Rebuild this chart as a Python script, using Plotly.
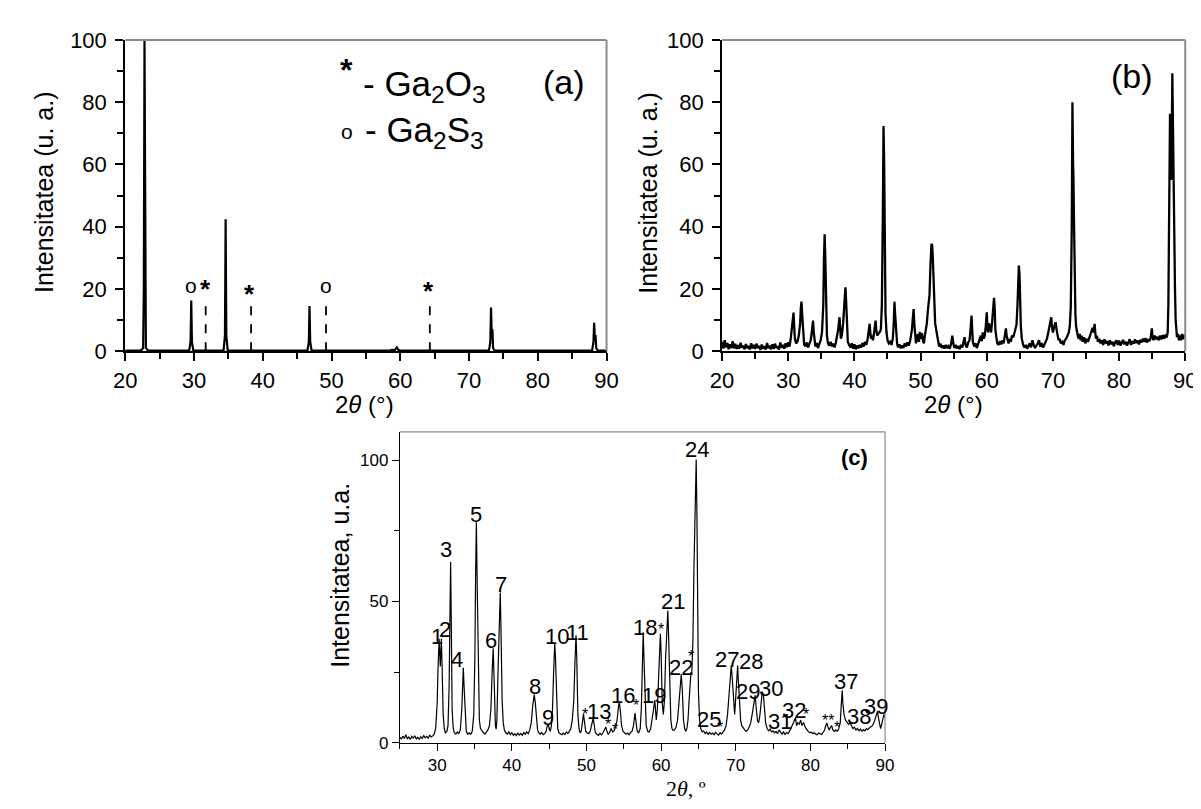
import plotly.graph_objects as go

# ---------------- DATA ----------------
# Panel (a): XRD pattern, (2theta, intensity)
a_pattern = [
    (20.0, 0.2), (22.3, 0.2), (22.6, 1.0), (22.7, 20), (22.8, 100), (22.9, 20), (23.0, 1.0), (23.3, 0.2),
    (29.3, 0.2), (29.5, 3), (29.6, 16.3), (29.7, 3), (29.9, 0.2),
    (34.3, 0.2), (34.5, 5), (34.6, 42.4), (34.7, 5), (34.9, 0.2),
    (46.5, 0.2), (46.7, 3), (46.8, 14.5), (46.9, 3), (47.1, 0.2),
    (58.5, 0.2), (58.8, 0.4), (59.2, 0.3), (59.5, 1.2), (59.7, 0.4), (60.0, 0.2),
    (72.9, 0.2), (73.1, 3), (73.2, 14), (73.3, 5), (73.4, 7), (73.5, 1), (73.7, 0.2),
    (87.9, 0.2), (88.1, 3), (88.2, 9.1), (88.3, 4), (88.4, 5.2), (88.5, 1), (88.7, 0.2), (90.0, 0.2),
]
# Reference (dashed) lines in (a)
a_ref_pos = [31.7, 38.3, 49.2, 64.3]
a_ref_h = [16.3, 15.3, 15.6, 15.3]
# Phase markers in (a)
a_mark_txt = ["o", "*", "*", "o", "*"]
a_mark_x = [29.5, 31.6, 38.1, 49.2, 64.1]
a_mark_y = [21.1, 20.0, 18.3, 21.1, 19.2]

# Panel (b): XRD pattern
b_pattern = [
    (20.0, 3.0), (20.2, 0.8), (20.4, 3.5), (20.6, 1.2), (20.8, 2.6), (21.0, 0.6), (21.2, 2.2), (21.4, 1.0),
    (21.6, 3.2), (21.8, 0.9), (22.0, 2.4), (22.2, 0.7), (22.4, 1.9), (22.6, 0.8), (22.8, 2.7), (23.0, 1.1),
    (23.2, 1.8), (23.4, 0.6), (23.6, 2.3), (23.8, 1.0), (24.0, 1.6), (24.2, 0.5), (24.4, 2.5), (24.6, 0.9),
    (24.8, 2.0), (25.0, 0.7), (25.2, 2.4), (25.4, 1.0), (25.6, 1.7), (25.8, 0.4), (26.0, 2.1), (26.2, 0.8),
    (26.4, 1.5), (26.6, 0.5), (26.8, 2.6), (27.0, 0.9), (27.2, 1.8), (27.4, 0.6), (27.6, 2.2), (27.8, 0.7),
    (28.0, 2.4), (28.2, 1.0), (28.4, 1.6), (28.6, 0.5), (28.8, 2.8), (29.0, 1.1), (29.2, 2.0), (29.4, 0.8),
    (29.6, 2.5), (29.8, 1.3), (30.0, 2.8), (30.2, 1.5), (30.4, 4.5), (30.55, 7), (30.7, 10), (30.8, 12.4),
    (30.9, 8), (31.0, 4), (31.2, 2.5), (31.4, 3.2), (31.6, 5), (31.8, 9), (31.9, 14), (32.0, 15.9),
    (32.1, 12), (32.25, 5), (32.4, 2.2), (32.6, 1.5), (32.8, 2.8), (33.0, 1.2), (33.2, 2.5), (33.4, 3.5),
    (33.55, 6), (33.75, 9.8), (33.85, 6), (33.95, 3), (34.1, 1.5), (34.3, 2.6), (34.5, 1.0), (34.7, 2.3),
    (34.9, 3.5), (35.1, 6), (35.3, 15), (35.4, 30), (35.5, 37.6), (35.6, 30), (35.7, 12), (35.85, 5),
    (36.0, 2.5), (36.2, 1.8), (36.4, 3.0), (36.6, 1.5), (36.8, 2.4), (37.0, 1.2), (37.2, 2.8), (37.4, 5),
    (37.55, 7), (37.75, 10.9), (37.85, 6), (37.95, 4), (38.1, 5), (38.3, 9), (38.5, 16), (38.65, 20.5),
    (38.75, 16), (38.9, 7), (39.0, 3), (39.2, 2), (39.4, 1.2), (39.6, 2.5), (39.8, 0.8), (40.0, 2.2),
    (40.2, 0.6), (40.4, 1.8), (40.6, 0.9), (40.8, 2.0), (41.0, 1.2), (41.2, 2.6), (41.4, 1.5), (41.6, 3.0),
    (41.8, 2.0), (42.0, 4), (42.15, 6.5), (42.3, 8.8), (42.4, 6), (42.5, 4), (42.65, 5), (42.8, 3.5),
    (42.95, 5.5), (43.1, 8), (43.2, 9.8), (43.3, 7), (43.45, 5), (43.6, 5.5), (43.8, 6), (44.0, 7),
    (44.15, 15), (44.3, 45), (44.4, 72.4), (44.5, 60), (44.6, 30), (44.7, 12), (44.85, 6), (45.0, 3.5),
    (45.2, 2.5), (45.4, 3.0), (45.6, 2.0), (45.8, 4), (45.95, 9), (46.05, 15.9), (46.15, 12), (46.3, 5),
    (46.45, 2.5), (46.6, 1.2), (46.8, 2.2), (47.0, 0.9), (47.2, 1.8), (47.4, 1.0), (47.6, 2.5), (47.8, 1.5),
    (48.0, 2.8), (48.2, 1.8), (48.4, 3), (48.55, 5), (48.7, 7), (48.8, 10), (48.95, 13.5), (49.05, 9),
    (49.2, 4), (49.3, 2.5), (49.45, 4), (49.6, 5.5), (49.75, 3), (49.9, 6.2), (50.05, 4), (50.2, 5.8),
    (50.35, 3.5), (50.5, 2.5), (50.65, 5), (50.8, 7), (50.95, 9), (51.1, 13), (51.25, 16), (51.35, 18),
    (51.5, 28), (51.65, 34.5), (51.75, 34), (51.85, 30), (51.95, 24), (52.05, 15), (52.2, 9), (52.35, 7),
    (52.5, 5), (52.65, 3), (52.8, 1.5), (53.0, 2.4), (53.2, 1.0), (53.4, 1.8), (53.6, 0.8), (53.8, 2.0),
    (54.0, 1.0), (54.2, 1.6), (54.4, 0.8), (54.6, 2.2), (54.8, 5), (54.95, 2.5), (55.1, 1.0), (55.3, 2.0),
    (55.5, 0.9), (55.7, 1.6), (55.9, 0.6), (56.1, 2.0), (56.3, 1.2), (56.5, 3.0), (56.65, 4.5), (56.8, 2.0),
    (57.0, 1.2), (57.2, 2.8), (57.4, 3.5), (57.55, 7), (57.7, 11.4), (57.8, 7), (57.9, 3), (58.1, 1.5),
    (58.3, 2.5), (58.5, 1.0), (58.7, 2.2), (58.9, 3.5), (59.1, 5), (59.25, 3.2), (59.4, 6), (59.55, 4),
    (59.7, 5), (59.85, 8), (60.0, 12.5), (60.1, 8), (60.2, 6), (60.35, 9), (60.5, 7.5), (60.65, 6),
    (60.8, 9), (60.95, 14), (61.1, 17.1), (61.2, 14), (61.3, 7), (61.45, 4.5), (61.6, 2.5), (61.8, 2.0),
    (62.0, 3.2), (62.2, 2.2), (62.4, 3.5), (62.55, 2.5), (62.7, 5), (62.9, 7.3), (63.0, 5), (63.15, 3.5),
    (63.3, 2.5), (63.5, 4), (63.65, 3), (63.8, 5), (64.0, 4.5), (64.2, 6), (64.35, 8), (64.5, 8.5),
    (64.65, 15), (64.75, 25), (64.85, 27.5), (64.95, 25), (65.05, 16), (65.15, 8), (65.3, 4), (65.5, 2),
    (65.7, 1.2), (65.9, 2.0), (66.1, 0.8), (66.3, 1.6), (66.5, 2.5), (66.7, 1.2), (66.9, 3.5), (67.1, 2.0),
    (67.3, 1.0), (67.5, 1.8), (67.7, 2.4), (67.9, 3.5), (68.1, 1.4), (68.3, 2.6), (68.5, 1.2), (68.7, 2.0),
    (68.9, 3.0), (69.1, 4), (69.3, 6), (69.5, 8), (69.65, 9), (69.75, 10.9), (69.85, 8), (70.0, 6),
    (70.15, 7.5), (70.3, 9), (70.4, 9.3), (70.55, 7), (70.7, 5), (70.85, 3.5), (71.0, 4), (71.2, 2.5),
    (71.4, 3), (71.6, 2), (71.8, 3.5), (72.0, 4), (72.2, 5), (72.4, 6), (72.55, 8), (72.7, 14),
    (72.85, 40), (72.95, 80), (73.05, 60), (73.1, 56.6), (73.2, 40), (73.3, 20), (73.4, 12), (73.5, 8),
    (73.6, 6), (73.75, 5), (73.9, 4), (74.05, 5.5), (74.2, 3.5), (74.35, 5), (74.5, 3), (74.7, 4.5),
    (74.9, 2.5), (75.1, 4), (75.3, 3), (75.5, 4.5), (75.7, 5.5), (75.85, 6.5), (76.0, 7.5), (76.15, 6),
    (76.3, 8.8), (76.4, 6), (76.5, 4), (76.65, 5), (76.8, 3), (77.0, 4), (77.2, 2.5), (77.4, 3.5),
    (77.6, 2), (77.8, 3.8), (78.0, 2.5), (78.2, 3.2), (78.4, 1.8), (78.6, 3.5), (78.8, 2.2), (79.0, 3.0),
    (79.2, 1.6), (79.4, 2.8), (79.6, 3.5), (79.8, 2.0), (80.0, 3.4), (80.2, 1.8), (80.4, 2.6), (80.6, 3.6),
    (80.8, 2.2), (81.0, 3.0), (81.2, 1.8), (81.4, 2.8), (81.6, 3.8), (81.8, 2.0), (82.0, 3.2), (82.2, 2.4),
    (82.4, 3.8), (82.6, 2.6), (82.8, 3.4), (83.0, 2.2), (83.2, 3.6), (83.4, 2.8), (83.6, 4.0), (83.8, 3.0),
    (84.0, 4.2), (84.2, 2.8), (84.4, 3.8), (84.6, 3.2), (84.8, 4.5), (84.95, 7.3), (85.05, 4.5), (85.2, 3.5),
    (85.4, 5), (85.6, 3.8), (85.8, 4.6), (86.0, 3.5), (86.2, 5), (86.4, 3.8), (86.6, 5.2), (86.8, 4.0),
    (87.0, 5.0), (87.2, 4.5), (87.35, 6), (87.45, 15), (87.55, 45), (87.7, 76.3), (87.8, 60), (87.9, 55),
    (88.05, 89.3), (88.15, 65), (88.25, 42), (88.35, 40), (88.45, 20), (88.55, 10), (88.65, 6), (88.75, 4.5),
    (88.9, 5.5), (89.05, 3.5), (89.2, 5), (89.35, 3.5), (89.5, 5.5), (89.65, 3.8), (89.8, 5.2), (90.0, 4.5),
]

# Panel (c): XRD pattern
c_pattern = [
    (25.0, 2.0), (25.2, 1.2), (25.4, 2.3), (25.6, 1.5), (25.8, 2.8), (26.0, 1.4), (26.2, 2.0), (26.4, 1.1),
    (26.6, 2.2), (26.8, 1.6), (27.0, 2.4), (27.2, 1.3), (27.4, 1.9), (27.6, 1.2), (27.8, 2.1), (28.0, 1.5),
    (28.2, 2.5), (28.4, 1.7), (28.6, 2.2), (28.8, 1.6), (29.0, 2.6), (29.2, 2.0), (29.4, 2.4), (29.6, 3.0),
    (29.8, 5), (30.0, 14), (30.1, 25), (30.2, 34), (30.26, 36.8), (30.35, 31), (30.42, 27), (30.5, 33),
    (30.56, 36.8), (30.65, 28), (30.8, 10), (30.95, 5), (31.1, 3.5), (31.3, 4), (31.45, 6), (31.6, 20),
    (31.7, 45), (31.8, 63.9), (31.9, 40), (32.0, 12), (32.15, 5), (32.3, 3.5), (32.5, 3), (32.7, 3.8),
    (32.9, 3.2), (33.1, 4.5), (33.3, 12), (33.4, 22), (33.5, 26.5), (33.6, 20), (33.75, 8), (33.9, 4),
    (34.1, 3), (34.3, 3.5), (34.5, 3), (34.7, 4), (34.9, 10), (35.05, 30), (35.15, 60), (35.25, 78),
    (35.35, 58), (35.5, 22), (35.65, 8), (35.8, 5), (36.0, 4), (36.2, 3.5), (36.4, 3), (36.6, 3.8),
    (36.8, 4.5), (37.0, 6), (37.2, 12), (37.35, 24), (37.5, 33.4), (37.6, 25), (37.7, 12), (37.8, 6),
    (37.9, 4.8), (38.0, 8), (38.15, 25), (38.3, 45), (38.45, 53.1), (38.55, 40), (38.7, 15), (38.85, 7),
    (39.0, 4.5), (39.2, 3.5), (39.4, 3), (39.6, 3.8), (39.8, 2.8), (40.0, 3.5), (40.2, 2.6), (40.4, 3.2),
    (40.6, 2.5), (40.8, 3.4), (41.0, 2.7), (41.2, 3.3), (41.4, 2.6), (41.6, 3.6), (41.8, 3.0), (42.0, 3.8),
    (42.2, 3.2), (42.4, 4.5), (42.6, 7), (42.8, 13), (43.0, 17), (43.15, 14), (43.3, 8), (43.45, 4.5),
    (43.6, 3.5), (43.8, 3), (44.0, 3.6), (44.2, 2.8), (44.4, 3.2), (44.6, 4), (44.75, 6), (44.9, 6.5),
    (45.0, 5), (45.15, 4), (45.3, 6), (45.45, 12), (45.6, 25), (45.75, 35.1), (45.85, 30), (46.0, 12),
    (46.15, 5), (46.3, 3.5), (46.5, 3), (46.7, 2.8), (46.9, 3.4), (47.1, 2.9), (47.3, 3.8), (47.5, 3.2),
    (47.7, 4), (47.9, 5), (48.1, 8), (48.3, 15), (48.45, 28), (48.6, 38), (48.7, 30), (48.85, 10),
    (49.0, 5), (49.15, 3.5), (49.3, 4), (49.45, 7), (49.6, 10.2), (49.75, 7), (49.9, 4), (50.1, 3.5),
    (50.3, 3.2), (50.5, 4), (50.7, 6), (50.9, 8.8), (51.05, 6), (51.2, 3.5), (51.4, 3), (51.6, 2.6),
    (51.8, 3.3), (52.0, 2.8), (52.2, 3.5), (52.4, 4.5), (52.6, 5.5), (52.75, 4), (52.9, 3), (53.1, 3.5),
    (53.3, 5), (53.5, 3.8), (53.7, 4.2), (53.9, 5.5), (54.1, 8), (54.3, 13), (54.4, 14.5), (54.55, 11),
    (54.7, 6), (54.9, 4), (55.1, 3.5), (55.3, 3), (55.5, 3.4), (55.7, 2.8), (55.9, 3.6), (56.1, 4),
    (56.3, 6), (56.5, 10.5), (56.65, 7), (56.8, 4), (57.0, 3.5), (57.2, 5), (57.35, 12), (57.5, 30),
    (57.6, 39.1), (57.7, 30), (57.85, 12), (58.0, 6), (58.2, 4), (58.4, 3.8), (58.6, 5), (58.8, 8),
    (59.0, 12), (59.15, 15.1), (59.25, 11), (59.35, 8), (59.5, 12), (59.65, 20), (59.8, 33), (59.9, 38.5),
    (60.0, 32), (60.15, 14), (60.3, 10), (60.45, 15), (60.6, 30), (60.75, 42), (60.9, 46.8), (61.0, 38),
    (61.15, 18), (61.3, 8), (61.45, 5), (61.6, 4.4), (61.8, 4.5), (62.0, 5.5), (62.2, 8), (62.4, 14),
    (62.55, 21), (62.7, 24.2), (62.85, 18), (63.0, 8), (63.15, 5), (63.3, 4), (63.45, 5), (63.6, 8),
    (63.75, 15), (63.9, 22), (64.0, 25), (64.1, 24), (64.25, 35), (64.4, 62), (64.55, 85), (64.7, 100.2),
    (64.8, 80), (64.9, 45), (65.0, 18), (65.15, 8), (65.3, 5), (65.5, 3.8), (65.7, 4.2), (65.9, 3.2),
    (66.1, 3.8), (66.3, 2.9), (66.5, 3.6), (66.7, 3.0), (66.9, 3.4), (67.1, 2.8), (67.3, 3.7), (67.5, 3.1),
    (67.7, 2.7), (67.9, 3.5), (68.1, 3.0), (68.3, 3.8), (68.5, 4.5), (68.7, 6), (68.9, 10), (69.1, 17),
    (69.3, 24), (69.4, 27.3), (69.55, 22), (69.75, 12), (69.85, 10), (69.95, 14), (70.1, 24), (70.25, 27.3),
    (70.35, 22), (70.5, 12), (70.65, 8), (70.8, 6), (71.0, 5), (71.2, 4.5), (71.4, 4), (71.6, 4.5),
    (71.8, 5.5), (72.0, 7), (72.2, 10), (72.4, 14), (72.6, 16.8), (72.75, 12), (72.9, 8), (73.05, 7),
    (73.2, 9), (73.4, 14), (73.55, 18), (73.7, 17), (73.85, 11), (74.0, 7), (74.2, 5), (74.4, 4.2),
    (74.6, 4.8), (74.8, 3.8), (75.0, 4.2), (75.2, 3.5), (75.4, 4.0), (75.6, 3.2), (75.8, 4.5), (76.0, 3.5),
    (76.2, 3.0), (76.4, 3.8), (76.6, 2.9), (76.8, 3.6), (77.0, 3.2), (77.2, 4.0), (77.4, 5), (77.6, 6),
    (77.8, 7.5), (78.0, 8.8), (78.15, 6), (78.3, 7), (78.5, 6.5), (78.7, 8), (78.85, 6), (79.0, 6.8),
    (79.1, 7), (79.3, 5.5), (79.5, 4.5), (79.7, 4), (79.9, 3.5), (80.1, 3.8), (80.3, 3.2), (80.5, 3.5),
    (80.7, 3.0), (80.9, 2.8), (81.1, 3.4), (81.3, 3.0), (81.5, 2.9), (81.7, 3.6), (81.9, 4.5), (82.05, 6),
    (82.2, 7), (82.35, 5.5), (82.5, 4.5), (82.7, 5.5), (82.85, 6), (83.0, 4.5), (83.2, 4), (83.4, 4.5),
    (83.6, 4), (83.8, 5), (84.0, 7), (84.1, 12), (84.2, 16), (84.26, 18.5), (84.35, 14), (84.5, 10),
    (84.7, 8), (84.9, 7), (85.1, 6.5), (85.3, 7), (85.5, 6), (85.7, 5), (85.9, 5.5), (86.1, 4.5),
    (86.3, 5), (86.5, 4.2), (86.7, 4.8), (86.9, 4.0), (87.1, 4.6), (87.3, 4.2), (87.5, 5), (87.7, 4.6),
    (87.9, 5.2), (88.1, 5.5), (88.3, 6), (88.5, 7), (88.7, 8.5), (88.9, 10.5), (89.0, 11.1), (89.1, 9),
    (89.25, 6), (89.4, 5), (89.55, 6.5), (89.7, 9), (89.85, 10), (90.0, 9),
]
# Peak labels in (c): text, x, y
c_lbl_txt = ["1", "2", "3", "4", "5", "6", "7", "8", "9", "10", "11", "13", "16", "18", "19", "21",
             "22", "24", "25", "27", "28", "29", "30", "31", "32", "37", "38", "39"]
c_lbl_x = [30.0, 31.0, 31.13, 32.67, 35.16, 37.26, 38.57, 43.04, 44.84, 46.1, 48.85, 51.66, 54.94, 57.9,
           59.09, 61.55, 62.73, 64.79, 66.45, 68.86, 72.0, 71.7, 74.77, 75.9, 77.83, 84.82, 86.49, 88.76]
c_lbl_y = [37.4, 40.2, 68.2, 29.4, 80.8, 36.2, 55.9, 19.9, 9.0, 37.4, 39.1, 11.1, 16.8, 40.8,
           16.8, 49.9, 26.5, 103.9, 8.2, 29.6, 28.8, 18.0, 19.1, 7.5, 11.5, 21.6, 9.4, 12.8]
# Asterisk marks in (c)
c_star_txt = ["*", "*", "*", "*", "*", "*", "*", "*", "**", "*"]
c_star_x = [49.8, 52.88, 53.76, 56.69, 60.01, 63.95, 67.85, 79.44, 82.3, 83.6]
c_star_y = [10.1, 6.5, 4.8, 13.1, 39.9, 30.5, 5.3, 9.9, 7.8, 5.3]

# Tick values
ab_xticks = [20, 30, 40, 50, 60, 70, 80, 90]
ab_yticks = [0, 20, 40, 60, 80, 100]
c_xticks = [30, 40, 50, 60, 70, 80, 90]
c_yticks = [0, 50, 100]

# ---------------- FIGURE ----------------
W, H = 1201, 809
SANS = "Arial, Liberation Sans, sans-serif"
SERIF = "Times New Roman, Liberation Serif, serif"


def dx(l, r):
    return [l / W, r / W]


def dy(t, b):
    return [1 - b / H, 1 - t / H]


fig = go.Figure()


def unzip(pts):
    return [p[0] for p in pts], [p[1] for p in pts]


ax, ay = unzip(a_pattern)
bx, by = unzip(b_pattern)
cx, cy = unzip(c_pattern)

fig.add_trace(go.Scatter(x=ax, y=ay, mode="lines", line=dict(color="black", width=2.2),
                         xaxis="x", yaxis="y", showlegend=False, hoverinfo="skip"))
dxs, dys = [], []
for p, h in zip(a_ref_pos, a_ref_h):
    dxs += [p, p, None]
    dys += [0, h, None]
fig.add_trace(go.Scatter(x=dxs, y=dys, mode="lines", line=dict(color="black", width=1.8, dash="dash"),
                         xaxis="x", yaxis="y", showlegend=False, hoverinfo="skip"))
fig.add_trace(go.Scatter(x=bx, y=by, mode="lines", line=dict(color="black", width=2.3),
                         xaxis="x2", yaxis="y2", showlegend=False, hoverinfo="skip"))
fig.add_trace(go.Scatter(x=cx, y=cy, mode="lines", line=dict(color="black", width=1.2),
                         xaxis="x3", yaxis="y3", showlegend=False, hoverinfo="skip"))


def axis(domain, rng, tickvals, minor_dtick, tsize, lw, tlen, mlen, standoff=0):
    return dict(domain=domain, range=rng, tickmode="array", tickvals=tickvals,
                ticks="outside", ticklen=tlen, tickwidth=lw, tickcolor="black",
                showline=True, linecolor="black", linewidth=lw, mirror=False,
                showgrid=False, zeroline=False, ticklabelstandoff=standoff,
                tickfont=dict(family=SANS, size=tsize, color="black"),
                minor=dict(dtick=minor_dtick, ticks="outside", ticklen=mlen, tickwidth=lw,
                           tickcolor="black", showgrid=False))


A_X = dx(107.4, 598.5)
B_X = dx(716.4, 1189.0)
AB_Y = dy(20.7, 341.7)
C_X = dx(387.6, 882.7)
C_Y = dy(425.0, 745.7)

fig.update_layout(
    width=W, height=H, margin=dict(l=0, r=0, t=0, b=0),
    paper_bgcolor="white", plot_bgcolor="white",
    xaxis=dict(axis(A_X, [20, 90], ab_xticks, 5, 22, 2, 8, 6), anchor="y"),
    yaxis=dict(axis(AB_Y, [0, 100], ab_yticks, 10, 22, 2, 8, 6, 4), anchor="x"),
    xaxis2=dict(axis(B_X, [20, 90], ab_xticks, 5, 22, 2, 8, 6), anchor="y2"),
    yaxis2=dict(axis(AB_Y, [0, 100], ab_yticks, 10, 22, 2, 8, 6, 4), anchor="x2"),
    xaxis3=dict(axis(C_X, [25, 90], c_xticks, 5, 17, 1.2, 7, 5), anchor="y3"),
    yaxis3=dict(axis(C_Y, [0, 110], c_yticks, 25, 17, 1.2, 7, 5), anchor="x3"),
)

# gray top/right frame lines
shapes = []
for xr, yr, w in [("x", "y", 2), ("x2", "y2", 2), ("x3", "y3", 1.2)]:
    shapes.append(dict(type="line", xref=xr + " domain", yref=yr + " domain", x0=0, x1=1, y0=1, y1=1,
                       line=dict(color="#8a8a8a", width=w)))
    shapes.append(dict(type="line", xref=xr + " domain", yref=yr + " domain", x0=1, x1=1, y0=0, y1=1,
                       line=dict(color="#8a8a8a", width=w)))
fig.update_layout(shapes=shapes)

ann = []


def pann(text, px, py, size, family=SANS, angle=0, xanchor="center"):
    ann.append(dict(text=text, x=px / W, y=1 - py / H, xref="paper", yref="paper", showarrow=False,
                    xanchor=xanchor, yanchor="middle", textangle=angle,
                    font=dict(family=family, size=size, color="black")))


def dann(text, x, y, xr, yr, size, family=SANS, xanchor="center"):
    ann.append(dict(text=text, x=x, y=y, xref=xr, yref=yr, showarrow=False,
                    xanchor=xanchor, yanchor="middle",
                    font=dict(family=family, size=size, color="black")))


# axis titles (a), (b)
pann("Intensitatea (u. a.)", 25, 178, 25, angle=-90)
pann("Intensitatea (u. a.)", 641, 178, 25, angle=-90)
pann("2<i>θ</i> (°)", 352, 397, 24)
pann("2<i>θ</i> (°)", 953, 397, 24)
# axis titles (c)
pann("Intensitatea, u.a.", 327, 573, 25, angle=-90)
pann("2<i>θ</i>, º", 680, 793, 22, family=SERIF)

# (a) legend and label
dann("<b>*</b>", 52.2, 90.3, "x", "y", 32)
dann("- Ga<sub>2</sub>O<sub>3</sub>", 54.3, 85.3, "x", "y", 35, xanchor="left")
dann("o", 52.3, 70.5, "x", "y", 21)
dann("- Ga<sub>2</sub>S<sub>3</sub>", 54.6, 70.3, "x", "y", 35, xanchor="left")
dann("(a)", 83.8, 86.5, "x", "y", 34)
for t, x, y in zip(a_mark_txt, a_mark_x, a_mark_y):
    dann("<b>*</b>" if t == "*" else t, x, y, "x", "y", 26 if t == "*" else 21)
# (b) label
dann("(b)", 82.0, 88.5, "x2", "y2", 34)
# (c) labels
for t, x, y in zip(c_lbl_txt, c_lbl_x, c_lbl_y):
    dann(t, x, y, "x3", "y3", 22)
for t, x, y in zip(c_star_txt, c_star_x, c_star_y):
    dann(t, x, y, "x3", "y3", 16)
dann("<b>(c)</b>", 85.93, 100.8, "x3", "y3", 22)

fig.update_layout(annotations=ann)
fig.write_html("out.html")
